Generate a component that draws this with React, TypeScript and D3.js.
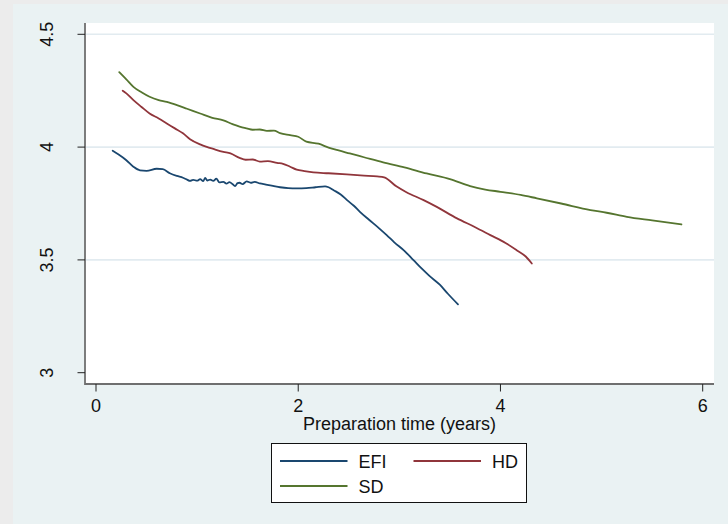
import React from "react";
import * as d3 from "d3";

// Survival-style smoothed curves by preparation time
const efiX = [0.165, 0.22, 0.30, 0.37, 0.435, 0.50, 0.60, 0.66, 0.73, 0.80, 0.86, 0.90, 0.93, 0.96, 1.00, 1.03, 1.06, 1.08, 1.10, 1.13, 1.16, 1.19, 1.22, 1.26, 1.29, 1.32, 1.35, 1.375, 1.40, 1.42, 1.45, 1.49, 1.53, 1.57, 1.62, 1.68, 1.75, 1.82, 1.90, 1.985, 2.08, 2.17, 2.265, 2.30, 2.35, 2.42, 2.48, 2.55, 2.61, 2.70, 2.80, 2.875, 2.95, 3.05, 3.14, 3.22, 3.30, 3.40, 3.48, 3.58];
const efiY = [3.984, 3.968, 3.942, 3.913, 3.897, 3.895, 3.904, 3.902, 3.884, 3.872, 3.864, 3.856, 3.850, 3.855, 3.851, 3.858, 3.849, 3.864, 3.852, 3.856, 3.850, 3.860, 3.844, 3.846, 3.838, 3.845, 3.836, 3.827, 3.840, 3.842, 3.836, 3.848, 3.842, 3.846, 3.839, 3.834, 3.828, 3.822, 3.818, 3.817, 3.818, 3.822, 3.826, 3.822, 3.809, 3.790, 3.766, 3.740, 3.713, 3.678, 3.640, 3.610, 3.578, 3.540, 3.499, 3.462, 3.428, 3.390, 3.350, 3.303];

const hdX = [0.264, 0.30, 0.37, 0.45, 0.53, 0.62, 0.70, 0.78, 0.86, 0.93, 1.03, 1.095, 1.16, 1.26, 1.33, 1.42, 1.48, 1.55, 1.62, 1.70, 1.79, 1.85, 1.92, 1.985, 2.06, 2.15, 2.30, 2.48, 2.65, 2.78, 2.85, 2.97, 3.07, 3.24, 3.37, 3.57, 3.75, 3.90, 4.05, 4.16, 4.25, 4.31];
const hdY = [4.250, 4.238, 4.208, 4.178, 4.149, 4.127, 4.105, 4.083, 4.061, 4.035, 4.012, 4.001, 3.992, 3.979, 3.972, 3.952, 3.944, 3.945, 3.936, 3.938, 3.930, 3.926, 3.913, 3.900, 3.894, 3.888, 3.884, 3.879, 3.874, 3.870, 3.866, 3.826, 3.800, 3.765, 3.735, 3.684, 3.645, 3.610, 3.575, 3.543, 3.515, 3.484];

const sdX = [0.23, 0.30, 0.37, 0.45, 0.53, 0.62, 0.70, 0.80, 0.90, 1.03, 1.15, 1.26, 1.35, 1.42, 1.49, 1.55, 1.62, 1.69, 1.76, 1.82, 1.92, 2.00, 2.08, 2.20, 2.30, 2.40, 2.51, 2.65, 2.84, 3.05, 3.27, 3.50, 3.70, 3.85, 4.00, 4.20, 4.36, 4.60, 4.89, 5.05, 5.25, 5.50, 5.79];
const sdY = [4.332, 4.300, 4.267, 4.243, 4.223, 4.208, 4.200, 4.186, 4.170, 4.149, 4.130, 4.118, 4.102, 4.091, 4.083, 4.077, 4.078, 4.072, 4.073, 4.062, 4.053, 4.046, 4.024, 4.015, 3.998, 3.985, 3.972, 3.955, 3.932, 3.910, 3.883, 3.858, 3.827, 3.812, 3.802, 3.788, 3.773, 3.750, 3.721, 3.709, 3.691, 3.675, 3.657];

const xTicks = [0, 2, 4, 6];
const yTicks = [3, 3.5, 4, 4.5];
const yTickLabels = ["3", "3.5", "4", "4.5"];
const gridTicks = [3.5, 4, 4.5];

const seriesNames = ["EFI", "HD", "SD"];
const seriesColors = ["#1a476f", "#90353b", "#55752f"];

const W = 728;
const H = 524;
const plot = { left: 85, right: 714, top: 23, bottom: 384 };
const FONT = "'Liberation Sans', Arial, Helvetica, sans-serif";

export default function App() {
  const x = d3.scaleLinear().domain([0, 6]).range([96, 702.7]);
  const y = d3.scaleLinear().domain([3, 4.5]).range([372.7, 34.3]);

  const line = d3
    .line<[number, number]>()
    .x((d) => x(d[0]))
    .y((d) => y(d[1]))
    .curve(d3.curveMonotoneX);

  const series = [
    { name: seriesNames[0], color: seriesColors[0], pts: efiX.map((v, i) => [v, efiY[i]] as [number, number]) },
    { name: seriesNames[1], color: seriesColors[1], pts: hdX.map((v, i) => [v, hdY[i]] as [number, number]) },
    { name: seriesNames[2], color: seriesColors[2], pts: sdX.map((v, i) => [v, sdY[i]] as [number, number]) },
  ];

  const legend = { x: 271.5, y: 443.5, w: 255, h: 59 };
  const legendItems = [
    { s: series[0], lx: 280, ly: 461 },
    { s: series[1], lx: 413.5, ly: 461 },
    { s: series[2], lx: 280, ly: 486 },
  ];

  return (
    <svg
      width={W}
      height={H}
      style={{ position: "absolute", left: 0, top: 0, display: "block" }}
      fontFamily={FONT}
    >
      {/* page backdrop */}
      <rect x={0} y={0} width={W} height={H} fill="#ececec" />
      {/* graph region */}
      <rect x={13} y={4} width={W - 13} height={H - 4} fill="#eaf2f3" />
      {/* plot region */}
      <rect x={plot.left} y={plot.top} width={plot.right - plot.left} height={plot.bottom - plot.top} fill="#ffffff" />

      {gridTicks.map((t) => (
        <line key={t} x1={plot.left} x2={plot.right} y1={y(t)} y2={y(t)} stroke="#e2ebf0" strokeWidth={1.6} />
      ))}

      {/* axes */}
      <line x1={plot.left} x2={plot.left} y1={plot.top} y2={plot.bottom + 1} stroke="#6f6f6f" strokeWidth={1.8} />
      <line x1={plot.left} x2={plot.right} y1={plot.bottom} y2={plot.bottom} stroke="#6f6f6f" strokeWidth={1.8} />

      {yTicks.map((t, i) => (
        <g key={t}>
          <line x1={77.5} x2={plot.left} y1={y(t)} y2={y(t)} stroke="#222" strokeWidth={1} />
          <text
            transform={`translate(52.5,${y(t)}) rotate(-90)`}
            textAnchor="middle"
            fontSize={18}
            fill="#111"
          >
            {yTickLabels[i]}
          </text>
        </g>
      ))}

      {xTicks.map((t) => (
        <g key={t}>
          <line x1={x(t)} x2={x(t)} y1={plot.bottom} y2={391.5} stroke="#222" strokeWidth={1} />
          <text x={x(t)} y={412} textAnchor="middle" fontSize={18} fill="#111">
            {t}
          </text>
        </g>
      ))}

      <text x={(plot.left + plot.right) / 2} y={430} textAnchor="middle" fontSize={18} fill="#111">
        Preparation time (years)
      </text>

      {series.map((s) => (
        <path
          key={s.name}
          d={line(s.pts) ?? ""}
          fill="none"
          stroke={s.color}
          strokeWidth={1.8}
          strokeLinejoin="round"
          strokeLinecap="round"
        />
      ))}

      {/* legend */}
      <rect x={legend.x} y={legend.y} width={legend.w} height={legend.h} fill="#ffffff" stroke="#111" strokeWidth={1} />
      {legendItems.map(({ s, lx, ly }) => (
        <g key={s.name}>
          <line x1={lx} x2={lx + 67.5} y1={ly} y2={ly} stroke={s.color} strokeWidth={1.8} />
          <text x={lx + 78.5} y={ly + 7} fontSize={18} fill="#111">
            {s.name}
          </text>
        </g>
      ))}
    </svg>
  );
}
